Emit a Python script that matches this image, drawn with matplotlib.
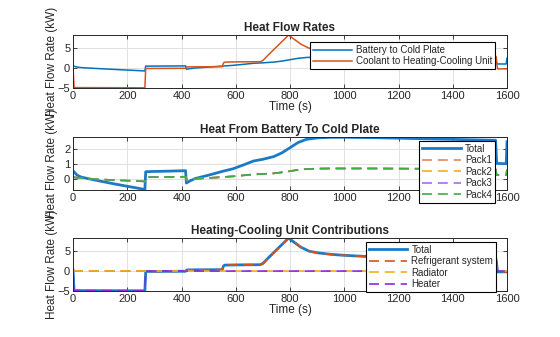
import matplotlib
matplotlib.use("Agg")
import matplotlib.pyplot as plt

plt.rcParams['font.family'] = ['Liberation Sans', 'DejaVu Sans']

# ---- battery -> cold plate heat flow (kW) ----
t_bat = [0, 5, 15, 30, 60, 100, 150, 200, 240, 265, 268, 300, 350, 415, 418,
         430, 450, 500, 550, 590, 630, 665, 700, 740, 770, 800, 830, 860, 900,
         950, 1000, 1100, 1200, 1300, 1400, 1500, 1558, 1562, 1597, 1600]
bat_total = [0.55, 0.45, 0.25, 0.12, 0.0, -0.15, -0.33, -0.5, -0.63, -0.72, 0.48,
             0.5, 0.52, 0.55, -0.28, -0.15, 0.02, 0.25, 0.5, 0.68, 0.95, 1.2,
             1.32, 1.5, 1.75, 2.1, 2.45, 2.66, 2.76, 2.8, 2.8, 2.78, 2.74, 2.7,
             2.66, 2.62, 2.6, 1.04, 1.02, 2.5]
# each of the four packs carries about a quarter of the total
pack_kw = [0.12, 0.1, 0.08, 0.05, 0.0, -0.04, -0.08, -0.12, -0.15, -0.17, 0.12,
           0.12, 0.13, 0.14, -0.06, -0.03, 0.0, 0.06, 0.12, 0.17, 0.24, 0.3,
           0.33, 0.37, 0.44, 0.52, 0.61, 0.66, 0.69, 0.7, 0.7, 0.7, 0.69, 0.68,
           0.67, 0.66, 0.65, 0.26, 0.26, 0.62]

# ---- coolant -> heating-cooling unit heat flow (kW) ----
t_hcu = [0, 4, 265, 268, 415, 420, 550, 555, 560, 600, 690, 700, 720, 750, 780,
         795, 810, 840, 870, 900, 950, 1000, 1100, 1200, 1300, 1400, 1500, 1555,
         1560, 1565, 1600]
hcu_total = [0.3, -4.9, -4.95, -0.1, -0.05, 0.3, 0.35, 1.3, 1.5, 1.55, 1.6, 1.9,
             3.3, 5.3, 7.3, 8.3, 7.5, 6.0, 5.0, 4.6, 4.2, 3.95, 3.6, 3.4, 3.25,
             3.1, 3.0, 2.95, 2.9, -0.2, -0.2]
refrig_kw = [0.0, 0.0, 0.0, -0.1, -0.05, 0.3, 0.35, 1.3, 1.5, 1.55, 1.6, 1.9,
             3.3, 5.3, 7.3, 8.3, 7.5, 6.0, 5.0, 4.6, 4.2, 3.95, 3.6, 3.4, 3.25,
             3.1, 3.0, 2.95, 2.9, -0.2, -0.2]
radiator_kw = [0.0] * len(t_hcu)
heater_kw = [0.0, -4.9, -4.95, 0.0, 0.0, 0.0, 0.0, 0.0, 0.0, 0.0, 0.0, 0.0,
             0.0, 0.0, 0.0, 0.0, 0.0, 0.0, 0.0, 0.0, 0.0, 0.0, 0.0, 0.0, 0.0,
             0.0, 0.0, 0.0, 0.0, 0.0, 0.0]

x_ticks = [0, 200, 400, 600, 800, 1000, 1200, 1400, 1600]

BLUE = '#0072BD'
ORANGE = '#D95319'
TXT = '#262626'

fig = plt.figure(figsize=(5.6, 3.37), dpi=100)
W, H = 560.0, 337.0


def make_axes(top_px, bottom_px):
    return fig.add_axes([73 / W, 1 - bottom_px / H, 434 / W, (bottom_px - top_px) / H])


def style(ax, title, ylim, yticks, xlabel=True):
    ax.set_xlim(0, 1600)
    ax.set_ylim(*ylim)
    ax.set_xticks(x_ticks)
    ax.set_yticks(yticks)
    ax.grid(True, color='#DCDCDC', linewidth=0.6)
    ax.set_axisbelow(True)
    ax.tick_params(direction='in', length=3, width=0.6, top=True, right=True,
                   labelsize=8, colors=TXT, pad=2)
    for s in ax.spines.values():
        s.set_linewidth(0.7)
        s.set_color(TXT)
    ax.set_title(title, fontsize=8.5, fontweight='bold', color=TXT, pad=3)
    ax.set_ylabel('Heat Flow Rate (kW)', fontsize=8.5, color=TXT)
    ax.yaxis.set_label_coords(-0.035, 0.5)
    if xlabel:
        ax.set_xlabel('Time (s)', fontsize=8.5, color=TXT, labelpad=0)


def legend(ax, anchor):
    lg = ax.legend(loc='upper right', bbox_to_anchor=anchor, borderaxespad=0,
                   fontsize=7, frameon=True, fancybox=False, framealpha=1,
                   edgecolor='black', handlelength=4.0, handletextpad=0.4,
                   labelspacing=0.15, borderpad=0.3)
    lg.get_frame().set_linewidth(0.8)
    for t in lg.get_texts():
        t.set_color(TXT)
    return lg


# Heat flow rates
ax1 = make_axes(35, 88)
ax1.plot(t_bat, bat_total, color=BLUE, lw=1.1, label='Battery to Cold Plate')
ax1.plot(t_hcu, hcu_total, color=ORANGE, lw=1.1, label='Coolant to Heating-Cooling Unit')
style(ax1, 'Heat Flow Rates', (-5, 8.3), [-5, 0, 5])
legend(ax1, (0.972, 0.868))

# Heat from battery to cold plate
ax2 = make_axes(137, 190)
ax2.plot(t_bat, bat_total, color='#1A7AC8', lw=2.0, label='Total')
dash = (6, 3.5)
ax2.plot(t_bat, pack_kw, color='#E8895A', lw=1.2, dashes=dash, label='Pack1')
ax2.plot(t_bat, pack_kw, color='#EDB120', lw=1.2, dashes=dash, label='Pack2')
ax2.plot(t_bat, pack_kw, color='#B06AE6', lw=1.2, dashes=dash, label='Pack3')
ax2.plot(t_bat, pack_kw, color='#3DAF3D', lw=1.2, dashes=dash, label='Pack4')
style(ax2, 'Heat From Battery To Cold Plate', (-0.75, 2.82), [0, 1, 2], xlabel=False)
legend(ax2, (0.972, 0.925))

# Heating-cooling unit contributions
ax3 = make_axes(238, 291)
ax3.plot(t_hcu, hcu_total, color='#1A7AC8', lw=2.0, label='Total')
ax3.plot(t_hcu, refrig_kw, color=ORANGE, lw=1.2, dashes=dash, label='Refrigerant system')
ax3.plot(t_hcu, radiator_kw, color='#EDB120', lw=1.2, dashes=dash, label='Radiator')
ax3.plot(t_hcu, heater_kw, color='#8A2BE2', lw=1.2, dashes=dash, label='Heater')
style(ax3, 'Heating-Cooling Unit Contributions', (-5, 8.3), [-5, 0, 5])
legend(ax3, (0.975, 0.925))

fig.savefig('out.png', dpi=100)
